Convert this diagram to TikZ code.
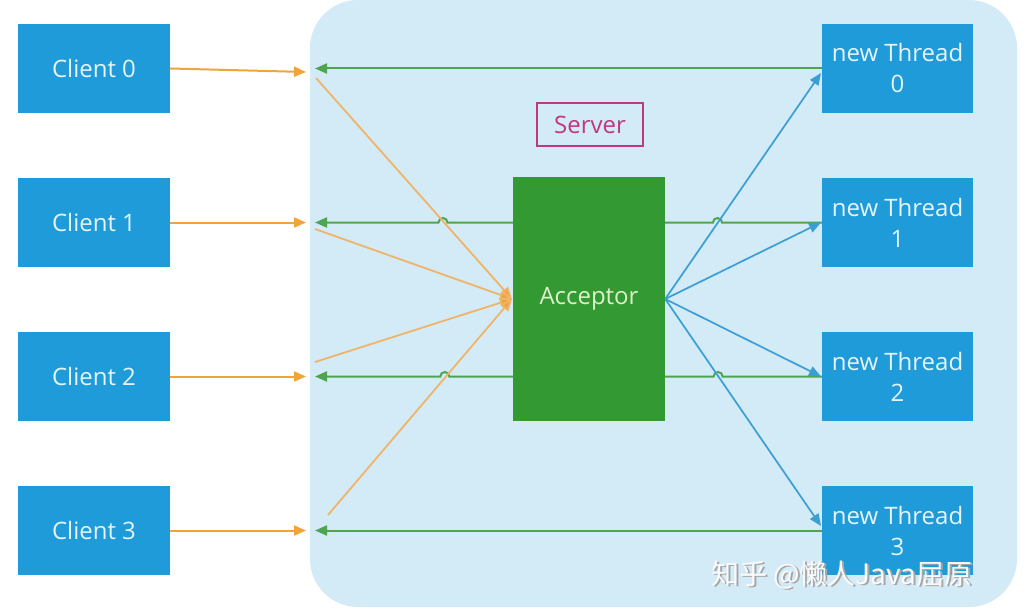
\documentclass[tikz,border=0pt]{standalone}
\usepackage{fontspec}
\setmainfont{Open Sans}
\newfontfamily\cjk{Noto Sans CJK SC}
\usetikzlibrary{arrows.meta,backgrounds}
\definecolor{srvbg}{HTML}{D3EAF7}
\definecolor{boxblue}{HTML}{1E9BD8}
\definecolor{accgreen}{HTML}{339A33}
\definecolor{lorange}{HTML}{EFA53A}
\definecolor{dorange}{HTML}{F0B468}
\definecolor{lgreen}{HTML}{4FA452}
\definecolor{lblue}{HTML}{3A9FD2}
\definecolor{srvmag}{HTML}{C2387E}
\definecolor{acctext}{HTML}{DDF2C8}
\definecolor{boxtext}{HTML}{E6F4FC}
\tikzset{
  clientbox/.style={draw=none,fill=boxblue,minimum width=152pt,minimum height=89pt,inner sep=0pt,text=boxtext,font=\fontsize{24}{28}\selectfont},
  threadbox/.style={clientbox,minimum width=151pt,align=center,font=\fontsize{24}{31}\selectfont},
  accbox/.style={fill=accgreen,minimum width=152pt,minimum height=244pt,inner sep=0pt,text=acctext,font=\fontsize{24}{28}\selectfont},
  srvlabel/.style={draw=srvmag,line width=1.3pt,minimum width=106pt,minimum height=43pt,inner sep=0pt,text=srvmag,font=\fontsize{24}{28}\selectfont},
  oarrow/.style={draw=lorange,line width=2pt,-{Triangle[length=12pt,width=10pt]}},
  darrow/.style={draw=dorange,line width=1.8pt,-{Triangle[length=12pt,width=10pt,fill=lorange]}},
  garrow/.style={draw=lgreen,line width=2pt,-{Triangle[length=12pt,width=10pt]}},
  barrow/.style={draw=lblue,line width=1.7pt,-{Triangle[length=12pt,width=10pt]}},
}
\begin{document}
\begin{tikzpicture}[x=1pt,y=1pt]
\useasboundingbox (0,0) rectangle (1027,-615);
% nodes
\node[clientbox] (c0) at (94,-68.5) {Client 0};
\node[clientbox] (c1) at (94,-222.5) {Client 1};
\node[clientbox] (c2) at (94,-376.5) {Client 2};
\node[clientbox] (c3) at (94,-530.5) {Client 3};
\node[threadbox] (t0) at (897.5,-68.5) {new Thread\\0};
\node[threadbox] (t1) at (897.5,-222.5) {new Thread\\1};
\node[threadbox] (t2) at (897.5,-376.5) {new Thread\\2};
\node[threadbox] (t3) at (897.5,-530.5) {new Thread\\3};
\node[accbox] (acc) at (589,-299) {Acceptor};
\node[srvlabel] (srv) at (590,-124.5) {Server};
% free ends
\coordinate (i0) at (306,-72);
\coordinate (i1) at (306,-222.5);
\coordinate (i2) at (306,-376.5);
\coordinate (i3) at (306,-530.5);
\coordinate (o0) at (315,-68.5);
\coordinate (o1) at (315,-222.5);
\coordinate (o2) at (315,-376.5);
\coordinate (o3) at (315,-530.5);
\coordinate (d0) at (316,-78);
\coordinate (d1) at (315,-229);
\coordinate (d2) at (315,-362);
\coordinate (d3) at (328,-515);
\coordinate (ain) at (512,-299);
\coordinate (tin0) at (821,-73);
\coordinate (tin1) at (821,-222.5);
\coordinate (tin2) at (821,-376.5);
\coordinate (tin3) at (821,-526);
\begin{scope}[on background layer]
  \fill[srvbg] (310,0) [rounded corners=48pt] -- (310,-607) -- (1017,-607) -- (1017,0) -- cycle;
  % green return lines
  \draw[garrow] (t0.west) -- (o0);
  \draw[garrow] (t1.west) -- (722,-222.5) arc[start angle=0,end angle=180,radius=4.5pt]
     -- (447.5,-222.5) arc[start angle=0,end angle=180,radius=4.5pt] -- (o1);
  \draw[garrow] (t2.west) -- (722.6,-376.5) arc[start angle=0,end angle=180,radius=4.5pt]
     -- (449.3,-376.5) arc[start angle=0,end angle=180,radius=4.5pt] -- (o2);
  \draw[garrow] (t3.west) -- (o3);
\end{scope}
% client to server
\draw[oarrow] (c0.east) -- (i0);
\draw[oarrow] (c1.east) -- (i1);
\draw[oarrow] (c2.east) -- (i2);
\draw[oarrow] (c3.east) -- (i3);
% into acceptor
\draw[darrow] (d0) -- (ain);
\draw[darrow] (d1) -- (ain);
\draw[darrow] (d2) -- (ain);
\draw[darrow] (d3) -- (ain);
% acceptor to threads
\draw[barrow] (acc.east) -- (tin0);
\draw[barrow] (acc.east) -- (tin1);
\draw[barrow] (acc.east) -- (tin2);
\draw[barrow] (acc.east) -- (tin3);
% watermark
\node[anchor=base west,text=gray!70,font=\cjk\fontsize{28}{30}\selectfont,inner sep=0pt] (wms) at (712.8,-585.8) {知乎 @懒人Java屈原};
\node[anchor=base west,text=white!96!gray,font=\cjk\fontsize{28}{30}\selectfont,inner sep=0pt] (wm) at (711,-584) {知乎 @懒人Java屈原};
\end{tikzpicture}
\end{document}
